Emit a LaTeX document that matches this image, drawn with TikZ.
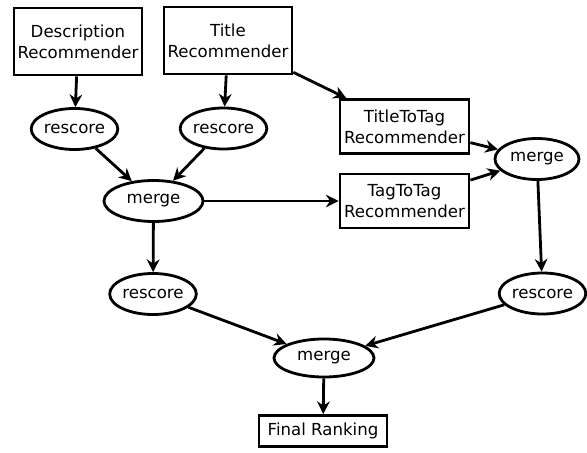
\documentclass[tikz,border=0pt]{standalone}
\usepackage{fontspec}
\setmainfont{DejaVu Sans}
\usetikzlibrary{shapes.geometric, arrows.meta}
\tikzstyle{recbox} = [draw=black, line width=2pt, rectangle, align=center, inner sep=0pt]
\tikzstyle{stepnode} = [draw=black, line width=2pt, ellipse, inner sep=0pt]
\tikzstyle{arrow} = [line width=2pt,->,>={Stealth[length=9pt,width=9pt]}]

\begin{document}
\begin{tikzpicture}[x=0.025cm, y=-0.025cm, font=\fontsize{11.8}{15}\selectfont]
			\useasboundingbox (0,0) rectangle (587,453);
			% sources
			\coordinate (Desc) at (78,41.5);
			\coordinate (Title) at (228,40.5);
			% rescore
			\coordinate (R1) at (74.5,129);
			\coordinate (R2) at (223.5,128.5);
			\coordinate (R3) at (153,294);
			\coordinate (R4) at (542.5,293.5);
			% merge
			\coordinate (M1) at (153.5,201);
			\coordinate (M2) at (537,159);
			\coordinate (M3) at (324,358);
			% tag
			\coordinate (TitleTag) at (404.5,126.5);
			\coordinate (TagTag) at (404.5,201);
			\coordinate (Final) at (323,431);
			\begin{scope}[every node/.style={recbox, minimum width=3.2cm, minimum height=1.675cm}]
			\node[name=Desc] at (Desc) {Description\\Recommender};
			\node[name=Title] at (Title) {Title\\Recommender};
			\end{scope}
			\begin{scope}[every node/.style={recbox, minimum width=3.225cm, minimum height=1.35cm}]
			\node[name=TitleTag] at (TitleTag) {TitleToTag\\Recommender};
			\node[name=TagTag] at (TagTag) {TagToTag\\Recommender};
			\end{scope}
			\begin{scope}[every node/.style={recbox, minimum width=3.2cm, minimum height=0.775cm}]
			\node[name=Final] at (Final) {Final Ranking};
			\end{scope}
			\begin{scope}[every node/.style={stepnode, minimum width=1.925cm, minimum height=1.025cm}]
			\node[name=R1, minimum width=1.725cm] at (R1) {rescore};
			\node[name=R2] at (R2) {rescore};
			\node[name=R3, minimum width=1.95cm] at (R3) {rescore};
			\node[name=R4] at (R4) {rescore};
			\end{scope}
			\begin{scope}[every node/.style={stepnode, minimum width=2.475cm, minimum height=1.025cm}]
			\node[name=M1] at (M1) {merge};
			\node[name=M2, minimum width=2.1cm] at (M2) {merge};
			\node[name=M3, minimum width=2.5cm, minimum height=0.95cm] at (M3) {merge};
			\end{scope}
			\draw[arrow] (Desc) -- (R1);
			\draw[arrow] (Title) -- (R2);
			\draw[arrow] (Title) -- (TitleTag);
			\draw[arrow] (R1) -- (M1);
			\draw[arrow] (R2) -- (M1);
			\draw[arrow] (M1) -- (TagTag);
			\draw[arrow] (M1) -- (R3);
			\draw[arrow] (TitleTag) -- (M2);
			\draw[arrow] (TagTag) -- (M2);
			\draw[arrow] (M2) -- (R4);
			\draw[arrow] (R3) -- (M3);
			\draw[arrow] (R4) -- (M3);
			\draw[arrow] (M3) -- (Final);
			\end{tikzpicture}
\end{document}
